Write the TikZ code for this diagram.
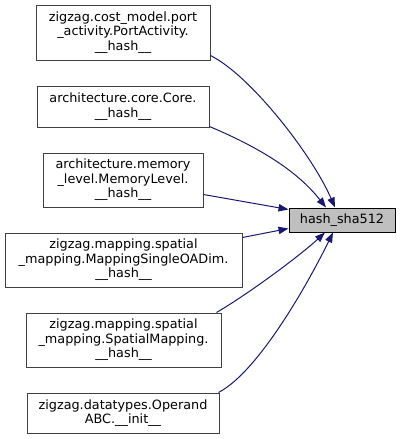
\documentclass[tikz,border=0pt]{standalone}
\usepackage{fontspec}
\setmainfont{DejaVu Sans}
\usetikzlibrary{arrows.meta}
\definecolor{edgeblue}{HTML}{191970}
\definecolor{boxline}{HTML}{404040}
\definecolor{hlfill}{HTML}{BFBFBF}
\tikzset{
  fnbox/.style={draw=boxline, line width=0.75pt, fill=white, inner sep=0pt, align=center,
    font=\fontsize{9.6}{10.9}\selectfont},
  hlbox/.style={draw=black, line width=0.75pt, fill=hlfill, inner sep=0pt, align=center,
    font=\fontsize{9.6}{10.9}\selectfont},
  dep/.style={draw=edgeblue, line width=0.75pt, -{Triangle[length=7.5pt,width=5.5pt]}}
}
\begin{document}
\begin{tikzpicture}[x=0.75pt,y=-0.75pt]
\useasboundingbox (0,0) rectangle (401,439);
\node[fnbox, minimum width=130.5pt, minimum height=41.25pt] (n1) at (123,32.5)
  {zigzag.cost\_model.port\\\_activity.PortActivity.\\\_\_hash\_\_};
\node[fnbox, minimum width=129pt, minimum height=30.75pt] (n2) at (123,106.5)
  {architecture.core.Core.\\\_\_hash\_\_};
\node[fnbox, minimum width=120pt, minimum height=40.5pt] (n3) at (123,180)
  {architecture.memory\\\_level.MemoryLevel.\\\_\_hash\_\_};
\node[fnbox, minimum width=177.75pt, minimum height=40.5pt] (n4) at (123.5,260)
  {zigzag.mapping.spatial\\\_mapping.MappingSingleOADim.\\\_\_hash\_\_};
\node[fnbox, minimum width=146.25pt, minimum height=40.5pt] (n5) at (123.5,340)
  {zigzag.mapping.spatial\\\_mapping.SpatialMapping.\\\_\_hash\_\_};
\node[fnbox, minimum width=144pt, minimum height=30pt] (n6) at (123,413)
  {zigzag.datatypes.Operand\\ABC.\_\_init\_\_};
\node[hlbox, minimum width=79.5pt, minimum height=18pt] (t) at (342,220)
  {hash\_sha512};

\draw[dep] ([yshift=3.75pt]n1.south east) .. controls +(40,20) and +(-23,-53) .. ([xshift=-5.25pt]t.north);
\draw[dep] ([yshift=0.75pt]n2.south east) .. controls +(57,24) and +(-26,-33) .. ([xshift=-12pt]t.north);
\draw[dep] ([yshift=9.75pt]n3.south east) -- ([yshift=-1.5pt]t.north west);
\draw[dep] ([yshift=-3.75pt]n4.north east) -- ([yshift=3pt]t.south west);
\draw[dep] ([xshift=-3.75pt]n5.north east) .. controls +(34,-20) and +(-25,23) .. ([xshift=-12.75pt]t.south);
\draw[dep] ([xshift=-0.75pt]n6.north east) .. controls +(42,-22) and +(-21,43) .. ([xshift=-6.75pt]t.south);
\end{tikzpicture}
\end{document}
